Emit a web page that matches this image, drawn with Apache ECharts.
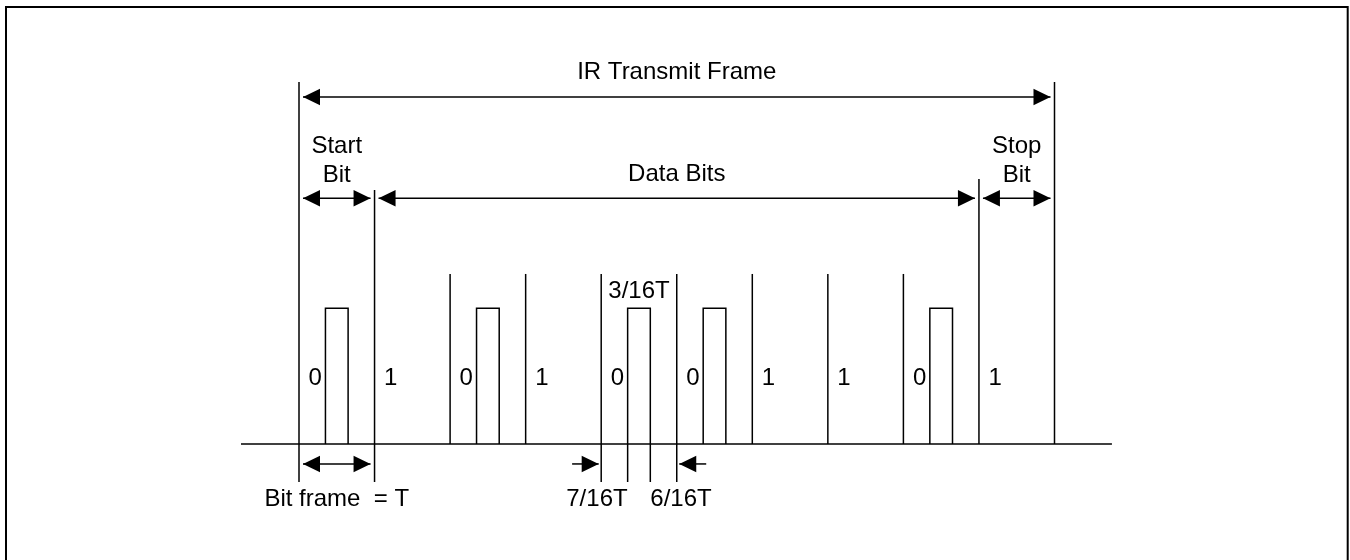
<!DOCTYPE html>
<html><head><meta charset="utf-8">
<script src="https://cdn.jsdelivr.net/npm/echarts@6/dist/echarts.min.js"></script>
<style>html,body{margin:0;padding:0;background:#fff}#c{width:1350px;height:560px}</style>
</head><body><div id="c"></div>
<script>
// ---------------- data ----------------
// bit values of the frame: start bit, 8 data bits, stop bit
const bitValues = [0, 1, 0, 1, 0, 0, 1, 1, 0, 1];
// bit boundaries (in units of the bit frame T)
const bitBoundaries = [0, 1, 2, 3, 4, 5, 6, 7, 8, 9, 10];
// drawn IR pulse window inside a "0" bit (fractions of T)
const pulseWindow = [0.35, 0.65];
// bit whose pulse carries the timing dimensions
const dimensionedBit = 4;
// frame fields
const fieldNames = ['IR Transmit Frame', 'Start\nBit', 'Data Bits', 'Stop\nBit'];
const fieldFrom = [0, 0, 1, 9];
const fieldTo = [10, 1, 9, 10];
// timing annotations
const timingLabels = ['Bit frame  = T', '7/16T', '3/16T', '6/16T'];

// ---------------- layout (levels: baseline 0, pulse high 1) ----------------
const LAY = {
  baseline: [-0.768, 10.76],
  frameRow: 2.557, frameText: 2.741, frameTop: 2.668,
  fieldRow: 1.811, fieldText1: 1.986, fieldText2: 2.087,
  startEndTop: 1.872, stopStartTop: 1.953, dataTop: 1.253,
  extBottom: -0.28, bottomRow: -0.147, bottomText: -0.41,
  bitText: 0.486, bitTextDx: 0.126, pulseText: 1.127,
  leader7: 3.615, leader6: 5.39
};
const pulseBits = bitValues.map((v, i) => v === 0 ? i : -1).filter(i => i >= 0);

const ink = '#000';
const FONT = '24px "Liberation Sans", Arial, Helvetica, sans-serif';
const LW = 1.5;

function seg(p, q) {
  return {type: 'line', shape: {x1: p[0], y1: p[1], x2: q[0], y2: q[1]}, style: {stroke: ink, lineWidth: LW, fill: null}};
}
function head(tip, dir) {
  const len = 17, hw = 8.3;
  return {type: 'polygon', shape: {points: [[tip[0], tip[1]], [tip[0] - dir * len, tip[1] - hw], [tip[0] - dir * len, tip[1] + hw]]}, style: {fill: ink}};
}
function txt(p, s, align, lh) {
  return {type: 'text', x: p[0], y: p[1], style: {text: s, font: FONT, fill: ink, align: align || 'center', verticalAlign: 'middle', lineHeight: lh || 28.5}};
}

// arrows: [from, to, level, both(1)/single(0)]
const arrows = [
  [0, 10, LAY.frameRow, 1],
  [fieldFrom[1], fieldTo[1], LAY.fieldRow, 1],
  [fieldFrom[2], fieldTo[2], LAY.fieldRow, 1],
  [fieldFrom[3], fieldTo[3], LAY.fieldRow, 1],
  [0, 1, LAY.bottomRow, 1],
  [LAY.leader7, dimensionedBit, LAY.bottomRow, 0],
  [LAY.leader6, dimensionedBit + 1, LAY.bottomRow, 0]
];

// texts: [x, level, labelIndex source]
const texts = [];
fieldNames.forEach((n, i) => {
  const lvl = i === 0 ? LAY.frameText : (n.indexOf('\n') >= 0 ? LAY.fieldText2 : LAY.fieldText1);
  texts.push({x: (fieldFrom[i] + fieldTo[i]) / 2, y: lvl, s: n, a: 'center'});
});
bitValues.forEach((v, i) => texts.push({x: i + LAY.bitTextDx, y: LAY.bitText, s: String(v), a: 'left'}));
texts.push({x: 0.5, y: LAY.bottomText, s: timingLabels[0], a: 'center'});
texts.push({x: dimensionedBit + pulseWindow[0], y: LAY.bottomText, s: timingLabels[1], a: 'right'});
texts.push({x: dimensionedBit + 0.5, y: LAY.pulseText, s: timingLabels[2], a: 'center'});
texts.push({x: dimensionedBit + pulseWindow[1], y: LAY.bottomText, s: timingLabels[3], a: 'left'});

const chart = echarts.init(document.getElementById('c'), null, {renderer: 'canvas'});
chart.setOption({
  animation: false,
  backgroundColor: '#fff',
  graphic: [{type: 'rect', shape: {x: 6, y: 7, width: 1341.7, height: 600}, style: {fill: null, stroke: ink, lineWidth: 2}, silent: true}],
  grid: {left: 299, right: 295.5, top: 308.3, bottom: 116},
  xAxis: {type: 'value', min: 0, max: 10, show: false},
  yAxis: {type: 'value', min: 0, max: 1, show: false},
  series: [
    { // baseline
      type: 'custom', clip: false, silent: true,
      data: [[LAY.baseline[0], LAY.baseline[1]]],
      renderItem: (p, api) => seg(api.coord([api.value(0), 0]), api.coord([api.value(1), 0]))
    },
    { // bit boundaries
      type: 'custom', clip: false, silent: true,
      data: bitBoundaries.map(b => [b]),
      renderItem: (p, api) => {
        const b = api.value(0);
        let top = LAY.dataTop;
        if (b === 0 || b === bitBoundaries.length - 1) top = LAY.frameTop;
        else if (b === 1) top = LAY.startEndTop;
        else if (b === bitBoundaries.length - 2) top = LAY.stopStartTop;
        const bottom = (b <= 1 || b === dimensionedBit || b === dimensionedBit + 1) ? LAY.extBottom : 0;
        return seg(api.coord([b, top]), api.coord([b, bottom]));
      }
    },
    { // IR pulses
      type: 'custom', clip: false, silent: true,
      data: pulseBits.map(b => [b]),
      renderItem: (p, api) => {
        const b = api.value(0);
        const x0 = b + pulseWindow[0], x1 = b + pulseWindow[1];
        const children = [{type: 'polyline', shape: {points: [api.coord([x0, 0]), api.coord([x0, 1]), api.coord([x1, 1]), api.coord([x1, 0])]}, style: {stroke: ink, lineWidth: LW, fill: null}}];
        if (b === dimensionedBit) {
          children.push(seg(api.coord([x0, 0]), api.coord([x0, LAY.extBottom])));
          children.push(seg(api.coord([x1, 0]), api.coord([x1, LAY.extBottom])));
        }
        return {type: 'group', children};
      }
    },
    { // dimension arrows
      type: 'custom', clip: false, silent: true,
      data: arrows,
      renderItem: (p, api) => {
        const a = api.coord([api.value(0), api.value(2)]);
        const b = api.coord([api.value(1), api.value(2)]);
        const both = api.value(3) === 1;
        const dir = b[0] > a[0] ? 1 : -1;
        const children = [];
        if (both) {
          const g = 4;
          const pa = [a[0] + dir * g, a[1]], pb = [b[0] - dir * g, b[1]];
          children.push(seg(pa, pb), head(pa, -dir), head(pb, dir));
        } else {
          const g = 2.5;
          const pb = [b[0] - dir * g, b[1]];
          children.push(seg(a, pb), head(pb, dir));
        }
        return {type: 'group', children};
      }
    },
    { // texts
      type: 'custom', clip: false, silent: true,
      data: texts.map(t => [t.x, t.y]),
      renderItem: (p, api) => {
        const t = texts[p.dataIndex];
        return txt(api.coord([api.value(0), api.value(1)]), t.s, t.a);
      }
    }
  ]
});
</script></body></html>
